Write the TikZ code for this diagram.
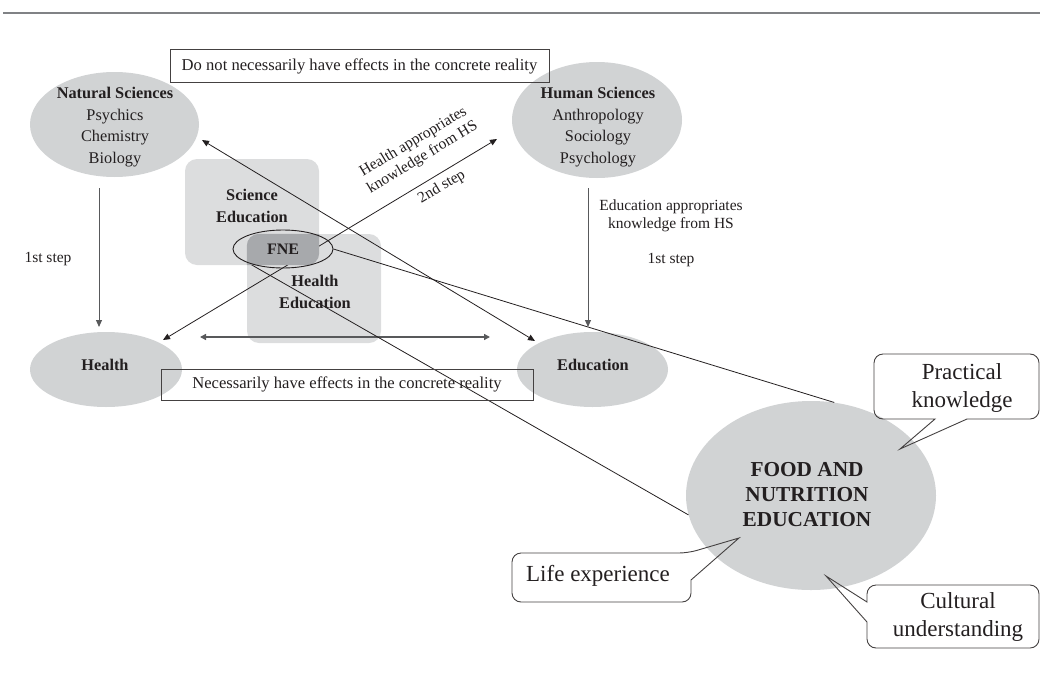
\documentclass[tikz,border=0pt]{standalone}
\usepackage{fontspec}
\setmainfont{Liberation Serif}
\usetikzlibrary{arrows.meta,shapes.geometric}
\definecolor{ink}{HTML}{231F20}
\definecolor{bubblegray}{HTML}{D1D3D4}
\definecolor{boxgray}{HTML}{DCDDDE}
\definecolor{overlapgray}{HTML}{A7A9AC}
\definecolor{rulegray}{HTML}{808285}
\definecolor{shaftgray}{HTML}{58595B}
\begin{document}
\begin{tikzpicture}[x=1pt,y=-1pt,
  bubble/.style={ellipse, fill=bubblegray, draw=none, inner sep=0pt},
  lbox/.style={rectangle, rounded corners=12pt, fill=boxgray, draw=none, inner sep=0pt},
  txt/.style={text=ink, align=center, inner sep=0pt, font=\fontsize{16.3}{21.7}\selectfont},
  btxt/.style={txt, font=\bfseries\fontsize{16.3}{21.7}\selectfont},
  smalltxt/.style={text=ink, align=center, inner sep=0pt, font=\fontsize{15.5}{18}\selectfont},
  foodtxt/.style={text=ink, align=center, inner sep=0pt, font=\bfseries\fontsize{21.3}{25}\selectfont},
  calltxt/.style={text=ink, align=center, inner sep=0pt, font=\fontsize{23}{28}\selectfont},
  plainbox/.style={rectangle, draw=ink!85, line width=1pt, inner sep=0pt, text=ink, font=\fontsize{16.6}{20}\selectfont},
  conn/.style={draw=ink, line width=0.8pt},
  tri/.tip={Triangle[length=7pt,width=6pt]},
  callout/.style={draw=ink!85, line width=0.9pt},
]
\useasboundingbox (0,0) rectangle (1040,685);

% top rule
\draw[rulegray, line width=1.8pt] (3,13) -- (1040,13);

% ellipses
\node[bubble, minimum width=169pt, minimum height=105pt] (ns) at (114.5,124.5) {};
\node[bubble, minimum width=170pt, minimum height=116pt] (hs) at (597,120) {};
\node[bubble, minimum width=152pt, minimum height=75pt] (health) at (106,369.5) {};
\node[bubble, minimum width=151pt, minimum height=75pt] (edu) at (592.5,369.5) {};
\node[bubble, minimum width=250pt, minimum height=189pt] (food) at (811,495.5) {};

% light boxes
\node[lbox, minimum width=134pt, minimum height=106pt] (sed) at (252,212) {};
\node[lbox, minimum width=134pt, minimum height=109pt] (hed) at (314,288.5) {};

% coordinates for free ends
\coordinate (nsDown) at (99,188);
\coordinate (healthTop) at (99,327);
\coordinate (hsDown) at (588,188);
\coordinate (eduTop) at (588,327);
\coordinate (hTip) at (163,340);
\coordinate (hsTip) at (497,139);
\coordinate (nsTip) at (202,140);
\coordinate (eTip) at (535,341);
\coordinate (dL) at (200,337);
\coordinate (dR) at (490,337);
\coordinate (fneLow) at (251,264.5);

% connectors
\draw[conn, draw=shaftgray, line width=1pt, -tri] (nsDown) -- (healthTop);
\draw[conn, draw=shaftgray, line width=1pt, -tri] (hsDown) -- (eduTop);
\draw[conn, tri-tri] (nsTip) -- (eTip);
\draw[conn, tri-tri] (hTip) --
  node[smalltxt, sloped, above=15pt, pos=0.812] (hlab) {Health appropriates\\knowledge from HS}
  node[smalltxt, sloped, below=5.5pt, pos=0.815] (step2) {2nd step}
  (hsTip);
\draw[draw=shaftgray, line width=1.4pt, {Triangle[length=6pt,width=6pt]}-{Triangle[length=6pt,width=6pt]}] (dL) -- (dR);
\draw[conn] (fneLow) -- (food.189);

% dark overlap of the two boxes
\begin{scope}
  \clip[rounded corners=12pt] (sed.south west) rectangle (sed.north east);
  \fill[overlapgray, rounded corners=12pt] (hed.south west) rectangle (hed.north east);
\end{scope}

% FNE
\node[ellipse, draw=ink, line width=0.9pt, minimum width=100pt, minimum height=38pt, inner sep=0pt,
      text=ink, font=\bfseries\fontsize{16}{20}\selectfont] (fne) at (283,249) {FNE};
\draw[conn] (fne.east) -- (food.76);

% texts
\node[txt] (nsT) at (115,127) {\textbf{Natural Sciences}\\Psychics\\Chemistry\\Biology};
\node[txt] (hsT) at (598,127) {\textbf{Human Sciences}\\Anthropology\\Sociology\\Psychology};
\node[btxt] (sedT) at (252,206) {Science\\Education};
\node[btxt] (hedT) at (315,292) {Health\\Education};
\node[btxt] (healthT) at (105,365) {Health};
\node[btxt] (eduT) at (593,365) {Education};
\node[smalltxt] (step1L) at (48,259) {1st step};
\node[smalltxt] (eduApp) at (671,216) {Education appropriates\\knowledge from HS};
\node[smalltxt] (step1R) at (671,260) {1st step};
\node[foodtxt] (foodT) at (807,495) {FOOD AND\\NUTRITION\\EDUCATION};

% reality boxes
\node[plainbox, minimum width=379pt, minimum height=32pt] (topbox) at (359.5,66) {Do not necessarily have effects in the concrete reality};
\node[plainbox, minimum width=372pt, minimum height=31pt] (botbox) at (347,384.5) {Necessarily have effects in the concrete reality};

% callouts
\draw[callout] (900,449) -- (967,419) [rounded corners=9pt] -- (1039,419) -- (1039,354) -- (874,354) -- (874,419) [sharp corners] -- (935,419) -- cycle;
\node[calltxt] (pk) at (962,388) {Practical\\knowledge};

\draw[callout] (739,538) -- (691,580) [rounded corners=9pt] -- (691,602) -- (512,602) -- (512,553) -- (688,553) [sharp corners] -- cycle;
\node[calltxt] (le) at (598,576) {Life experience};

\draw[callout] (826,576) -- (867,622) [rounded corners=9pt] -- (867,648) -- (1039,648) -- (1039,585) -- (867,585) [sharp corners] -- (867,602) -- cycle;
\node[calltxt] (cu) at (958,617) {Cultural\\understanding};

\end{tikzpicture}
\end{document}
